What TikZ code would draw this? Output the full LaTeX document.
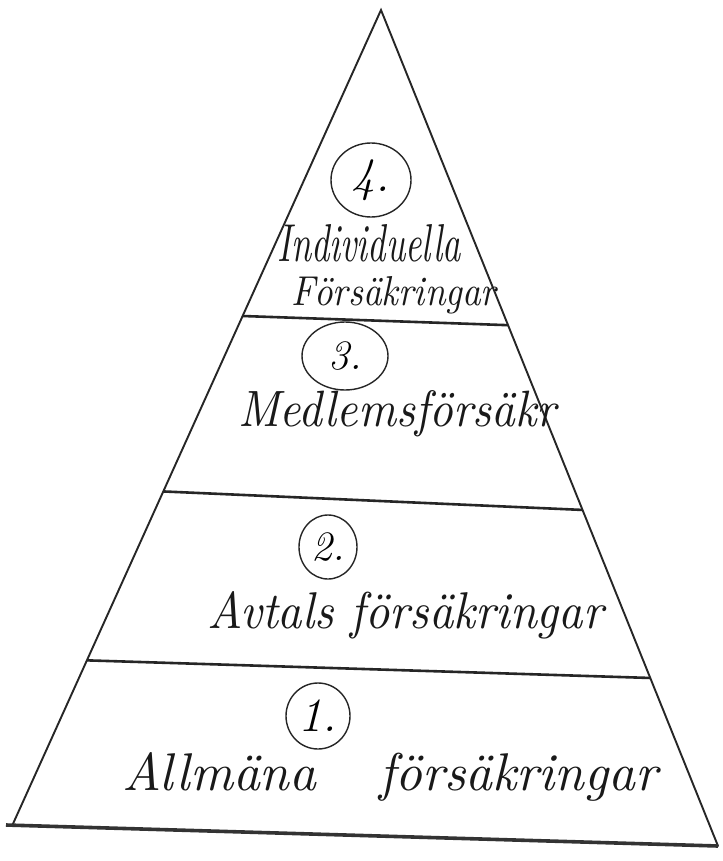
\documentclass[tikz,border=0pt]{standalone}
\usepackage{graphicx}
\usetikzlibrary{calc,shapes.geometric}
\tikzset{
  sideedge/.style={line width=1.9bp, draw=black!85, line cap=round},
  divider/.style={line width=2.6bp, draw=black!85},
  baseedge/.style={line width=3.6bp, draw=black!80},
  numring/.style={draw=black!85, ellipse, line width=1.4bp, inner sep=0pt,
    font=\itshape\fontsize{48}{48}\selectfont},
  hand/.style={anchor=base west, inner sep=0pt, font=\itshape, text=black!90},
}
\newcommand{\hwtext}[3]{\resizebox{#1bp}{#2bp}{#3}}
\begin{document}
\begin{tikzpicture}[x=1bp,y=-1bp]
\useasboundingbox (0,0) rectangle (723,861);
\fill[white] (0,0) rectangle (723,861);
% corners of the pyramid
\coordinate (apex) at (381,10);
\coordinate (bl) at (12,826);
\coordinate (br) at (718,846);
\coordinate (blx) at (6,825);
% divider end points on the sides
\coordinate (l43) at ($(apex)!0.375!(bl)$);
\coordinate (r43) at ($(apex)!0.377!(br)$);
\coordinate (l32) at ($(apex)!0.590!(bl)$);
\coordinate (r32) at ($(apex)!0.598!(br)$);
\coordinate (l21) at ($(apex)!0.797!(bl)$);
\coordinate (r21) at ($(apex)!0.799!(br)$);
% outline
\draw[sideedge] (bl) -- (apex) -- (br);
\draw[divider] (l43) -- (r43);
\draw[divider] (l32) -- (r32);
\draw[divider] (l21) -- (r21);
\draw[baseedge] (blx) -- (br);
% level 4
\node[numring, minimum width=80bp, minimum height=74bp] (n4) at (371,180) {4.};
\node[hand] (t4a) at (277,261) {\hwtext{184}{37}{Individuella}};
\node[hand] (t4b) at (291,305) {\hwtext{205}{29}{Försäkringar}};
% level 3
\node[numring, minimum width=86bp, minimum height=68bp, font=\itshape\fontsize{42}{42}\selectfont] (n3) at (345,356) {3.};
\node[hand] (t3) at (238,426) {\hwtext{318}{36}{Medlemsförsäkr}};
% level 2
\node[numring, minimum width=58bp, minimum height=64bp, font=\itshape\fontsize{42}{42}\selectfont] (n2) at (328,547) {2.};
\node[hand] (t2) at (207,628) {\hwtext{396}{37}{Avtals försäkringar}};
% level 1
\node[numring, minimum width=64bp, minimum height=66bp] (n1) at (318,716) {1.};
\node[hand] (t1) at (122,790) {\hwtext{535}{38}{Allmäna\hspace{1.2em}försäkringar}};
\end{tikzpicture}
\end{document}
